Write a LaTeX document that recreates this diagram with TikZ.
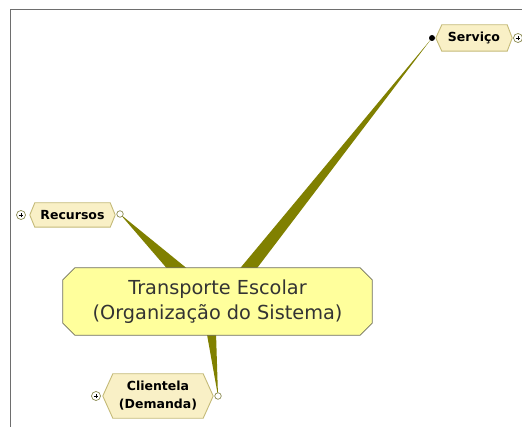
\documentclass[tikz,border=0pt]{standalone}
\usepackage{fontspec}
\setmainfont{DejaVu Sans}
\usetikzlibrary{calc}
\pgfdeclarelayer{wedgelayer}
\pgfdeclarelayer{shapelayer}
\pgfsetlayers{wedgelayer,shapelayer,main}
\definecolor{olivewedge}{HTML}{808000}
\definecolor{mainfill}{HTML}{FFFF9C}
\definecolor{mainborder}{HTML}{6E6E5A}
\definecolor{childfill}{HTML}{F9F0C6}
\definecolor{childborder}{HTML}{C4BA78}
\definecolor{maintext}{HTML}{333333}
\definecolor{framecol}{HTML}{6E6E6E}
\definecolor{plusborder}{HTML}{8A8A50}
\begin{document}
\begin{tikzpicture}[x=1pt,y=-1pt,
  maintopic/.style={inner sep=0pt, align=center, text=maintext,
    font=\fontsize{19.3}{25}\selectfont, minimum width=309pt, minimum height=67pt},
  subtopic/.style={inner sep=0pt, align=center, text=black,
    font=\bfseries\fontsize{12.5}{18}\selectfont},
  mainshape/.style={draw=mainborder, line width=0.8pt, fill=mainfill},
  hexshape/.style={draw=childborder, line width=0.9pt, fill=childfill},
  wedge/.style={fill=olivewedge},
  opendot/.style={circle, draw=plusborder, fill=white, line width=0.7pt, minimum size=6.5pt, inner sep=0pt},
  blackdot/.style={circle, fill=black, minimum size=6pt, inner sep=0pt},
  plusbtn/.style={circle, draw=plusborder, fill=white, line width=0.7pt, minimum size=9pt, inner sep=0pt,
    path picture={\draw[black, line width=0.6pt]
      ([xshift=-2.3pt]path picture bounding box.center) -- ([xshift=2.3pt]path picture bounding box.center)
      ([yshift=-2.3pt]path picture bounding box.center) -- ([yshift=2.3pt]path picture bounding box.center);}}
]
\useasboundingbox (0,0) rectangle (522,427);
\draw[framecol, line width=1pt] (10,427) -- (10,10) -- (522,10);

% nodes
\node[maintopic] (main) at (217.5,301.5) {Transporte Escolar\\(Organização do Sistema)};
\node[subtopic, minimum width=85pt, minimum height=24pt] (rec) at (72.5,215) {Recursos};
\node[subtopic, minimum width=76pt, minimum height=26pt] (serv) at (474,38) {Serviço};
\node[subtopic, minimum width=110pt, minimum height=44pt] (cli) at (158,396) {Clientela\\(Demanda)};

% connection dots
\node[opendot] (recdot) at (120,214) {};
\node[blackdot] (servdot) at (432,38) {};
\node[opendot] (clidot) at (218,396) {};

% expand buttons
\node[plusbtn] (recplus) at (21,215) {};
\node[plusbtn] (servplus) at (518,38) {};
\node[plusbtn] (cliplus) at (96,396) {};

% shapes
\begin{pgfonlayer}{shapelayer}
\path[mainshape] ([xshift=12pt]main.north west) -- ([xshift=-12pt]main.north east)
  -- ([yshift=-12pt]main.north east) -- ([yshift=12pt]main.south east)
  -- ([xshift=-12pt]main.south east) -- ([xshift=12pt]main.south west)
  -- ([yshift=12pt]main.south west) -- ([yshift=-12pt]main.north west) -- cycle;
\path[hexshape] ([xshift=5pt]rec.north west) -- ([xshift=-5pt]rec.north east) -- (rec.east)
  -- ([xshift=-5pt]rec.south east) -- ([xshift=5pt]rec.south west) -- (rec.west) -- cycle;
\path[hexshape] ([xshift=6pt]serv.north west) -- ([xshift=-5pt]serv.north east) -- (serv.east)
  -- ([xshift=-5pt]serv.south east) -- ([xshift=6pt]serv.south west) -- (serv.west) -- cycle;
\path[hexshape] ([xshift=10pt]cli.north west) -- ([xshift=-10pt]cli.north east) -- (cli.east)
  -- ([xshift=-10pt]cli.south east) -- ([xshift=10pt]cli.south west) -- (cli.west) -- cycle;
\end{pgfonlayer}

% wedges
\begin{pgfonlayer}{wedgelayer}
\coordinate (recbase) at ([xshift=-8.5pt,yshift=1pt]main.center);
\coordinate (servbase) at ([xshift=5.5pt,yshift=1pt]main.center);
\coordinate (clibase) at ([xshift=-9.5pt,yshift=1pt]main.center);
\fill[wedge] (recdot.center) -- ($(recbase)!11pt!90:(recdot.center)$) -- ($(recbase)!11pt!-90:(recdot.center)$) -- cycle;
\fill[wedge] (servdot.center) -- ($(servbase)!7.5pt!90:(servdot.center)$) -- ($(servbase)!7.5pt!-90:(servdot.center)$) -- cycle;
\fill[wedge] (clidot.center) -- ($(clibase)!7pt!90:(clidot.center)$) -- ($(clibase)!7pt!-90:(clidot.center)$) -- cycle;
\end{pgfonlayer}
\end{tikzpicture}
\end{document}
